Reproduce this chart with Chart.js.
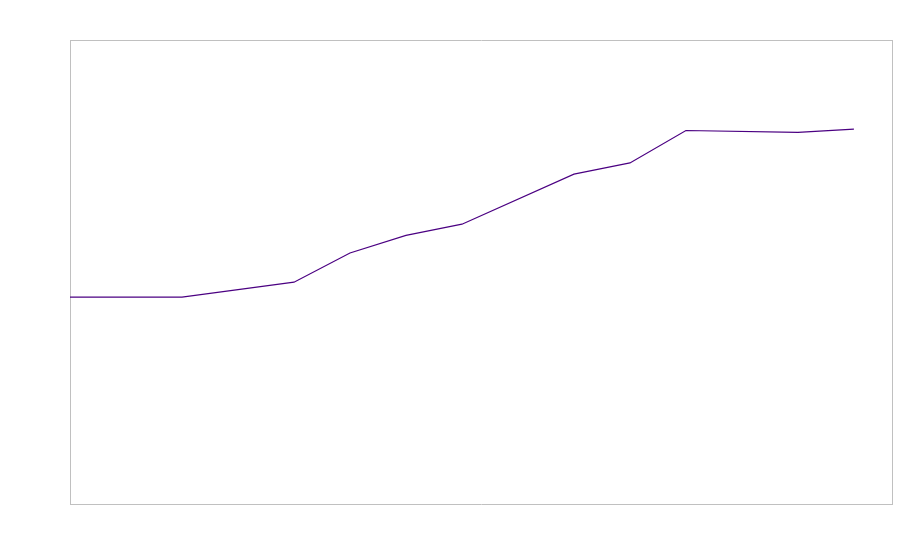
<!DOCTYPE html>
<html>
<head>
<meta charset="utf-8">
<script src="https://cdn.jsdelivr.net/npm/chart.js@4/dist/chart.umd.min.js"></script>
<style>
html,body{margin:0;padding:0;background:#fff;}
canvas{display:block;}
</style>
</head>
<body>
<canvas id="c" width="900" height="560"></canvas>
<script>
// Data (x positions as period index, y on an arbitrary 0-100 scale)
const periods = [0, 2, 4, 5, 6, 7, 9, 10, 11, 13, 14];
const values  = [44.6, 44.6, 47.8, 54.1, 57.9, 60.3, 71.1, 73.5, 80.5, 80.1, 80.8];
const xMin = 0, xMax = 14.68;
const yMin = 0, yMax = 100;

const points = periods.map((p, i) => ({x: p, y: values[i]}));
const frameColor = '#c0c0c0';
const hiddenAxis = (pos, axis) => ({
  type: 'linear', position: pos, axis: axis,
  min: axis === 'x' ? xMin : yMin, max: axis === 'x' ? xMax : yMax,
  ticks: {display: false},
  grid: {display: false, drawTicks: false},
  border: {display: true, color: frameColor, width: 1}
});

new Chart(document.getElementById('c'), {
  type: 'line',
  data: {
    datasets: [{
      data: points,
      borderColor: '#4B0082',
      borderWidth: 1.2,
      pointRadius: 0,
      fill: false,
      tension: 0,
      xAxisID: 'x',
      yAxisID: 'y'
    }]
  },
  options: {
    responsive: false,
    animation: false,
    devicePixelRatio: 1,
    layout: {padding: {left: 70, top: 40, right: 8, bottom: 56}},
    plugins: {legend: {display: false}, tooltip: {enabled: false}},
    scales: {
      x: hiddenAxis('bottom', 'x'),
      y: hiddenAxis('left', 'y'),
      x2: hiddenAxis('top', 'x'),
      y2: hiddenAxis('right', 'y')
    }
  }
});
</script>
</body>
</html>
